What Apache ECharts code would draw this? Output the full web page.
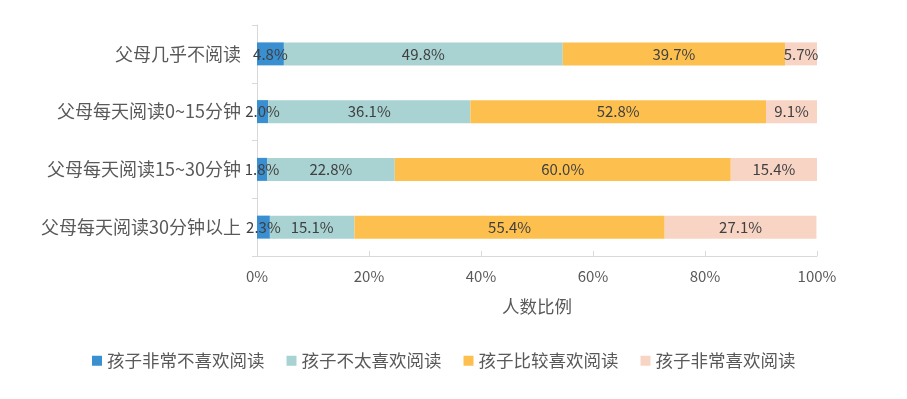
<!DOCTYPE html>
<html>
<head>
<meta charset="utf-8">
<script src="https://cdn.jsdelivr.net/npm/echarts@6/dist/echarts.min.js"></script>
<style>
  html, body { margin: 0; padding: 0; background: #fff; }
  #chart { width: 907px; height: 399px; }
</style>
</head>
<body>
<div id="chart"></div>
<script>
  // 数据
  const categories = ['父母几乎不阅读', '父母每天阅读0~15分钟', '父母每天阅读15~30分钟', '父母每天阅读30分钟以上']
  const seriesNames = ['孩子非常不喜欢阅读', '孩子不太喜欢阅读', '孩子比较喜欢阅读', '孩子非常喜欢阅读']
  const veryDislike = [4.8, 2.0, 1.8, 2.3]
  const ratherDislike = [49.8, 36.1, 22.8, 15.1]
  const ratherLike = [39.7, 52.8, 60.0, 55.4]
  const veryLike = [5.7, 9.1, 15.4, 27.1]
  const colors = ['#3a8fd0', '#a9d3d2', '#fdc04f', '#f8d4c5']

  const fontFamily = '"Noto Sans CJK SC", "Noto Sans", sans-serif'
  const seriesData = [veryDislike, ratherDislike, ratherLike, veryLike]

  const myChart = echarts.init(document.getElementById('chart'))

  myChart.setOption({
    animation: false,
    textStyle: { fontFamily },
    grid: { left: 257, right: 90, top: 25, bottom: 143, containLabel: false },
    legend: {
      data: seriesNames,
      left: 87,
      top: 347,
      itemWidth: 10,
      itemHeight: 10,
      itemGap: 22,
      icon: 'rect',
      textStyle: { color: '#595959', fontSize: 17.5, fontFamily },
    },
    xAxis: {
      type: 'value',
      min: 0,
      max: 100,
      interval: 20,
      name: '人数比例',
      nameLocation: 'middle',
      nameGap: 42,
      nameTextStyle: { color: '#595959', fontSize: 17.5, fontFamily },
      axisLine: { show: true, lineStyle: { color: '#d9d9d9', width: 1 } },
      axisTick: { show: true, inside: true, length: 5, lineStyle: { color: '#d9d9d9' } },
      splitLine: { show: false },
      axisLabel: {
        formatter: '{value}%',
        color: '#595959',
        fontSize: 15,
        margin: 13,
        fontFamily,
      },
    },
    yAxis: {
      type: 'category',
      data: categories,
      inverse: true,
      axisLine: { show: true, lineStyle: { color: '#d9d9d9', width: 1 } },
      axisTick: { show: true, length: 5, lineStyle: { color: '#d9d9d9' } },
      axisLabel: { color: '#595959', fontSize: 18, margin: 16, fontFamily },
    },
    series: seriesData.map((d, i) => ({
      name: seriesNames[i],
      type: 'bar',
      stack: 'total',
      data: d,
      barWidth: 23,
      itemStyle: { color: colors[i] },
      label: {
        show: true,
        position: 'inside',
        color: '#404040',
        fontSize: 15,
        fontFamily,
        formatter: (p) => p.value.toFixed(1) + '%',
      },
    })),
  })
</script>
</body>
</html>
